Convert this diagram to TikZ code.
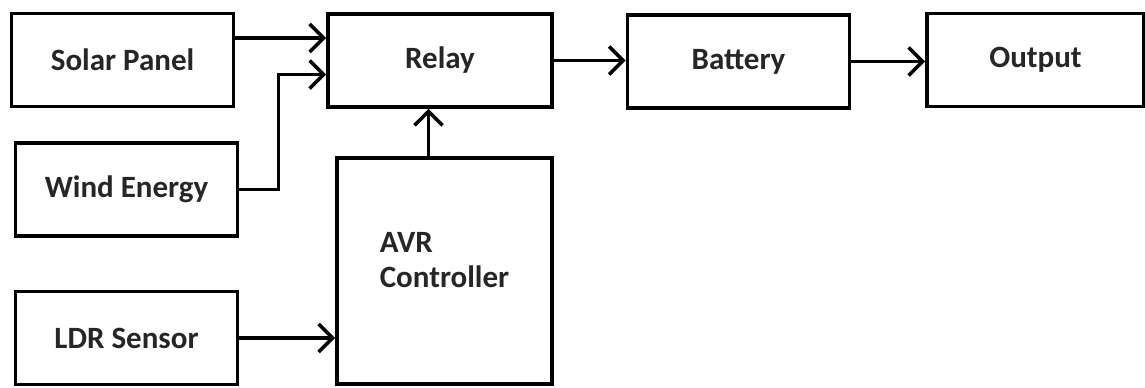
\documentclass[tikz,border=0pt]{standalone}
\usepackage{fontspec}
\setmainfont{Carlito}
\usepackage{tikz}
\usetikzlibrary{arrows.meta, positioning, calc}
\newcommand{\blockfont}{\fontsize{15.5}{17.5}\selectfont\bfseries}

\begin{document}
\begin{tikzpicture}[x=0.5pt, y=-0.5pt,
    block/.style={rectangle, draw, line width=1.8pt, minimum width=111pt, minimum height=46.5pt, inner sep=0pt, text=black!85, font=\blockfont},
    ctrl/.style={block, minimum width=107.5pt, minimum height=113pt, align=left},
    arrow/.style={-{Straight Barb[length=7pt, width=14pt]}, line width=1.8pt}
]
    \useasboundingbox[fill=white] (0,0) rectangle (1145,387);

    % Sources
    \node[block] (solar) at (122.5,60) {Solar Panel};
    \node[block] (wind) at (126.5,189.5) {Wind Energy};
    \node[block] (ldr) at (126.5,338) {LDR Sensor};

    % Relay and controller
    \node[block, minimum width=112pt] (relay) at (440,60.5) {Relay};
    \node[ctrl, text height=28pt, text depth=12pt] (avr) at (444.5,271) {AVR\\Controller};

    % Storage and output
    \node[block] (bat) at (738.5,61.5) {Battery};
    \node[block, minimum width=108.5pt] (out) at (1035.5,60) {Output};

    % Arrows
    \draw[arrow] ([yshift=11pt]solar.east) -- ([yshift=11pt]solar.east -| relay.west);
    \draw[arrow] (wind.east) -- ++(39,0) |- ([yshift=-7pt]relay.west);
    \draw[arrow] ([xshift=-8pt]avr.north) -- ([xshift=-8pt]avr.north |- relay.south);
    \draw[arrow] (ldr.east) -- (ldr.east -| avr.west);
    \draw[arrow] (relay.east) -- (relay.east -| bat.west);
    \draw[arrow] (bat.east) -- (bat.east -| out.west);
\end{tikzpicture}
\end{document}
